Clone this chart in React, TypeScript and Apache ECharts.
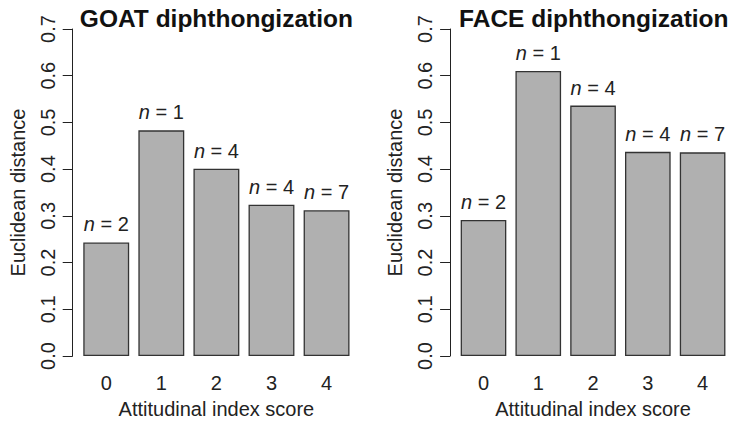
import React, { useEffect, useRef } from "react";
import * as echarts from "echarts";

const categories = ["0", "1", "2", "3", "4"];
const goatValues = [0.243, 0.483, 0.401, 0.324, 0.312];
const faceValues = [0.291, 0.61, 0.536, 0.437, 0.436];
const goatN = [2, 1, 4, 4, 7];
const faceN = [2, 1, 4, 4, 7];
const titles = ["GOAT diphthongization", "FACE diphthongization"];
const xAxisTitle = "Attitudinal index score";
const yAxisTitle = "Euclidean distance";

const FONT = "'Liberation Sans', Arial, Helvetica, sans-serif";

export default function App() {
  const ref = useRef<HTMLDivElement>(null);

  useEffect(() => {
    if (!ref.current) return;
    const chart = echarts.init(ref.current, undefined, { renderer: "svg" });

    const gridLefts = [78.7, 456.1];
    const bandW = 55.08;
    const gridW = bandW * 5;
    const panels = [
      { values: goatValues, n: goatN },
      { values: faceValues, n: faceN },
    ];

    const option: any = {
      animation: false,
      backgroundColor: "#ffffff",
      title: titles.map((t, i) => ({
        text: t,
        left: gridLefts[i] + gridW / 2,
        top: 6,
        padding: 0,
        textAlign: "center",
        textStyle: {
          fontFamily: FONT,
          fontSize: 24.5,
          fontWeight: "bold",
          color: "#111",
        },
      })),
      grid: gridLefts.map((l) => ({
        left: l,
        top: 29,
        width: gridW,
        height: 328.7,
        containLabel: false,
      })),
      xAxis: gridLefts.map((_, i) => ({
        type: "category",
        gridIndex: i,
        data: categories,
        boundaryGap: true,
        axisLine: { show: false },
        axisTick: { show: false },
        axisLabel: {
          fontFamily: FONT,
          fontSize: 20,
          color: "#222",
          margin: 17,
        },
        name: xAxisTitle,
        nameLocation: "middle",
        nameGap: 43,
        nameTextStyle: { fontFamily: FONT, fontSize: 20, color: "#222" },
      })),
      yAxis: gridLefts.map((_, i) => ({
        type: "value",
        gridIndex: i,
        min: 0,
        max: 0.7,
        interval: 0.1,
        offset: 6,
        splitLine: { show: false },
        axisLine: { show: true, lineStyle: { color: "#222", width: 1 } },
        axisTick: { show: true, length: 10, lineStyle: { color: "#222", width: 1 } },
        axisLabel: {
          fontFamily: FONT,
          fontSize: 20,
          color: "#222",
          rotate: 90,
          margin: 15,
          formatter: (v: number) => v.toFixed(1),
        },
        name: yAxisTitle,
        nameLocation: "middle",
        nameGap: 45,
        nameTextStyle: { fontFamily: FONT, fontSize: 20, color: "#222" },
      })),
      series: panels.map((p, i) => ({
        type: "bar",
        xAxisIndex: i,
        yAxisIndex: i,
        data: p.values,
        barWidth: "83.33%",
        itemStyle: {
          color: "#b0b0b0",
          borderColor: "#333333",
          borderWidth: 1.3,
        },
        label: {
          show: true,
          position: "top",
          distance: 8,
          fontFamily: FONT,
          fontSize: 20,
          color: "#222",
          formatter: (params: any) => `{i|n} = ${p.n[params.dataIndex]}`,
          rich: {
            i: {
              fontFamily: FONT,
              fontSize: 20,
              fontStyle: "italic",
              color: "#222",
            },
          },
        },
      })),
    };

    chart.setOption(option);
    return () => chart.dispose();
  }, []);

  return (
    <div
      ref={ref}
      style={{ position: "absolute", left: 0, top: 0, width: 730, height: 424 }}
    />
  );
}
